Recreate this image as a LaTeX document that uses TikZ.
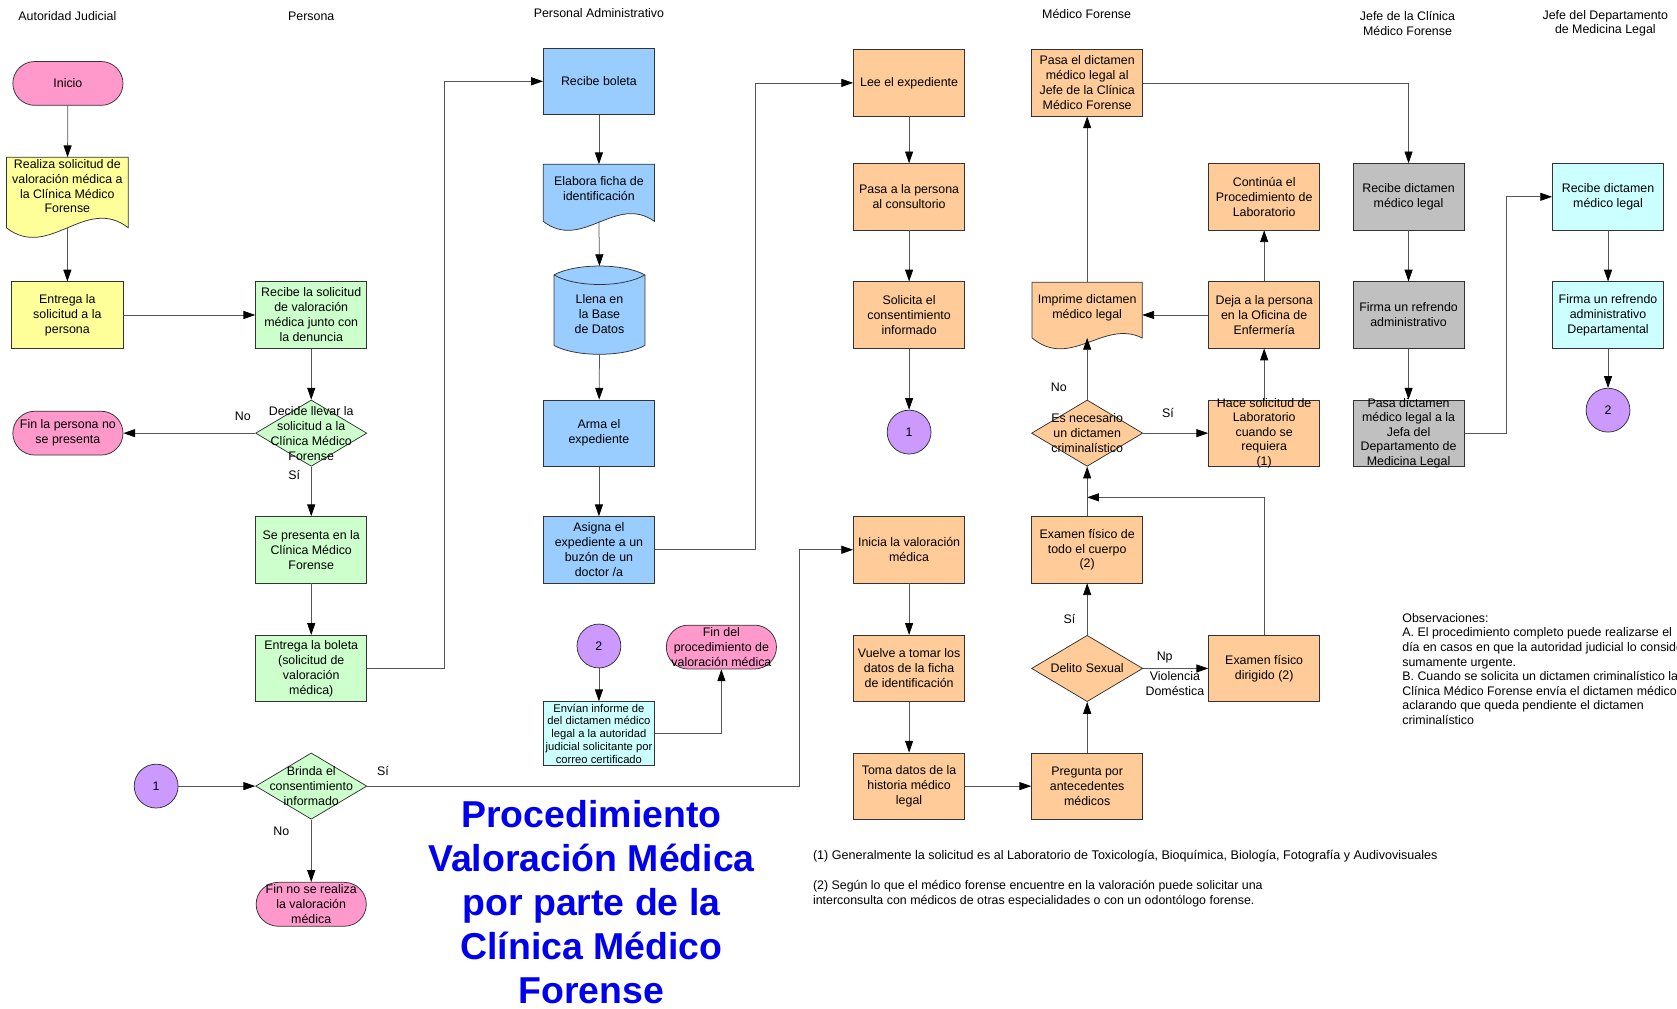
\documentclass[tikz,border=0pt]{standalone}
\usepackage{fontspec}
\setmainfont{Liberation Sans}
\usetikzlibrary{arrows.meta,shapes.geometric,calc}
\definecolor{cpink}{HTML}{FF99CC}
\definecolor{cyel}{HTML}{FFFF99}
\definecolor{cgreen}{HTML}{CCFFCC}
\definecolor{cblue}{HTML}{99CCFF}
\definecolor{corange}{HTML}{FFCC99}
\definecolor{cgrey}{HTML}{C0C0C0}
\definecolor{ccyan}{HTML}{CCFFFF}
\definecolor{cpurple}{HTML}{CC99FF}
\definecolor{ctitle}{RGB}{0,0,238}
\definecolor{cline}{HTML}{333333}
\definecolor{cconn}{HTML}{555555}
\newcommand\mkbox[5]{%
  \node[box, fill=#2] (#1) at (#3,#4) {};
  \node[txt] (#1t) at (#1) {#5};}
\newcommand\mkdia[5]{%
  \node[dia, fill=#2] (#1) at (#3,#4) {};
  \node[txt] (#1t) at (#1) {#5};}
\newcommand\mkterm[5]{%
  \node[term, fill=#2] (#1) at (#3,#4) {};
  \node[txt] (#1t) at (#1) {#5};}
\newcommand\docshape[4]{%
  \draw[shp, fill=#2] (#1.south west) -- (#1.north west) -- (#1.north east) -- (#1.south east)
   .. controls ($(#1.south east)!0.35!(#1.south west)+(0,-#4)$) and ($(#1.south east)!0.65!(#1.south west)+(0,#3)$) .. (#1.south west) -- cycle;}
\begin{document}
\begin{tikzpicture}[x=1pt,y=-1pt,
  font=\fontsize{11.6}{14}\selectfont,
  shp/.style={draw=cline, line width=0.7pt},
  box/.style={shp, minimum width=104pt, minimum height=62pt, inner sep=0pt},
  txt/.style={align=center, inner sep=0pt},
  term/.style={shp, rounded corners=20.5pt, minimum width=103pt, minimum height=41pt, inner sep=0pt},
  circ/.style={shp, circle, fill=cpurple, minimum size=41pt, inner sep=0pt},
  dia/.style={shp, diamond, minimum width=104pt, minimum height=62pt, inner sep=0pt},
  anchorbox/.style={inner sep=0pt, outer sep=0pt},
  arr/.style={draw=cconn, line width=0.7pt, -{Triangle[length=11pt,width=7.5pt,black]}},
  lbl/.style={inner sep=0pt},
  tight/.style={font=\fontsize{11.6}{13.5}\selectfont}]
\useasboundingbox (0,0) rectangle (1568,943);
\clip (0,0) rectangle (1568,943);

% headers
\node[txt] (h1) at (63,15) {Autoridad Judicial};
\node[txt] (h2) at (291,15) {Persona};
\node[txt] (h3) at (560,12) {Personal Administrativo};
\node[txt] (h4) at (1016,13) {Médico Forense};
\node[txt, tight] (h5) at (1316,22) {Jefe de la Clínica\\Médico Forense};
\node[txt, tight] (h6) at (1501,22) {Jefe del Departamento\\de Medicina Legal};

% column 1
\mkterm{inicio}{cpink}{63.5}{78}{Inicio}
\node[anchorbox, minimum width=114pt, minimum height=66pt] (realiza) at (63,180) {};
\docshape{realiza}{cyel}{31}{31}
\node[txt] (realizat) at (63,174) {Realiza solicitud de\\valoración médica a\\la Clínica Médico\\Forense};
\mkbox{entrega1}{cyel}{63}{294.5}{Entrega la\\solicitud a la\\persona}
\mkterm{fin1}{cpink}{63.5}{405}{Fin la persona no\\se presenta}
\node[circ] (c1a) at (146,735) {1};

% column 2
\mkbox{recibe1}{cgreen}{291}{294.5}{Recibe la solicitud\\de valoración\\médica junto con\\la denuncia}
\mkdia{decide}{cgreen}{291}{405}{Decide llevar la\\solicitud a la\\Clínica Médico\\Forense}
\mkbox{presenta}{cgreen}{291}{514}{Se presenta en la\\Clínica Médico\\Forense}
\mkbox{entrega2}{cgreen}{291}{625}{Entrega la boleta\\(solicitud de\\valoración\\médica)}
\mkdia{brinda}{cgreen}{291}{735}{Brinda el\\consentimiento\\informado}
\mkterm{fin2}{cpink}{291}{845.5}{Fin no se realiza\\la valoración\\médica}

% column 3
\mkbox{recibeb}{cblue}{560}{76}{Recibe boleta}
\node[anchorbox, minimum width=104pt, minimum height=53.5pt] (elabora) at (560,180.3) {};
\docshape{elabora}{cblue}{28}{26}
\node[txt] (elaborat) at (560,176) {Elabora ficha de\\identificación};
\node[anchorbox, minimum width=85pt, minimum height=66pt] (llena) at (560.5,290) {};
\draw[shp, fill=cblue] (llena.north west) .. controls ($(llena.north west)+(20,-11)$) and ($(llena.north east)+(-20,-11)$) .. (llena.north east)
  -- (llena.south east) .. controls ($(llena.south east)+(-20,11)$) and ($(llena.south west)+(20,11)$) .. (llena.south west) -- cycle;
\draw[shp] (llena.north west) .. controls ($(llena.north west)+(20,12)$) and ($(llena.north east)+(-20,12)$) .. (llena.north east);
\coordinate (llenatop) at ($(llena.north)+(0,-8.25)$);
\coordinate (llenabot) at ($(llena.south)+(0,8.25)$);
\node[txt] (llenat) at (560.5,294) {Llena en\\la Base\\de Datos};
\mkbox{arma}{cblue}{560}{405}{Arma el\\expediente}
\mkbox{asigna}{cblue}{560}{514}{Asigna el\\expediente a un\\buzón de un\\doctor /a}
\node[circ] (c2a) at (560,604) {2};
\mkterm{finproc}{cpink}{674.5}{605}{Fin del\\procedimiento de\\valoración médica}
\node[box, fill=ccyan, minimum height=60pt] (envian) at (560,686) {};
\node[txt, font=\fontsize{10.5}{12}\selectfont] (enviant) at (envian) {Envían informe de\\del dictamen médico\\legal a la autoridad\\judicial solicitante por\\correo certificado};

% column 4
\mkbox{lee}{corange}{850}{77.5}{Lee el expediente}
\mkbox{pasa}{corange}{850}{184}{Pasa a la persona\\al consultorio}
\mkbox{solicita}{corange}{850}{294.5}{Solicita el\\consentimiento\\informado}
\node[circ] (c1b) at (850,404) {1};
\mkbox{inicia}{corange}{850}{514}{Inicia la valoración\\médica}
\mkbox{vuelve}{corange}{850}{625}{Vuelve a tomar los\\datos de la ficha\\de identificación}
\mkbox{toma}{corange}{850}{735}{Toma datos de la\\historia médico\\legal}

% column 5
\mkbox{pasad}{corange}{1016.5}{77.5}{Pasa el dictamen\\médico legal al\\Jefe de la Clínica\\Médico Forense}
\node[anchorbox, minimum width=103pt, minimum height=52pt] (imprime) at (1016.5,290) {};
\docshape{imprime}{corange}{30}{18}
\node[txt] (imprimet) at (1016.5,288) {Imprime dictamen\\médico legal};
\mkdia{necesario}{corange}{1016.5}{405}{Es necesario\\un dictamen\\criminalístico}
\mkbox{examen1}{corange}{1016.5}{514}{Examen físico de\\todo el cuerpo\\(2)}
\mkdia{delito}{corange}{1016.5}{625}{Delito Sexual}
\mkbox{pregunta}{corange}{1016.5}{735}{Pregunta por\\antecedentes\\médicos}

% column 6
\mkbox{continua}{corange}{1182}{184}{Continúa el\\Procedimiento de\\Laboratorio}
\mkbox{deja}{corange}{1182}{294.5}{Deja a la persona\\en la Oficina de\\Enfermería}
\node[box, fill=corange] (hace) at (1182,405) {};
\node[txt, tight] (hacet) at (hace) {Hace solicitud de\\Laboratorio\\cuando se\\requiera\\(1)};
\mkbox{examen2}{corange}{1182}{625}{Examen físico\\dirigido (2)}
\coordinate (junc) at (1016.5,465);

% column 7
\mkbox{recibeg}{cgrey}{1317}{184}{Recibe dictamen\\médico legal}
\mkbox{firmag}{cgrey}{1317}{294.5}{Firma un refrendo\\administrativo}
\node[box, fill=cgrey] (pasag) at (1317,405) {};
\node[txt, tight] (pasagt) at (pasag) {Pasa dictamen\\médico legal a la\\Jefa del\\Departamento de\\Medicina Legal};

% column 8
\mkbox{recibec}{ccyan}{1503.5}{184}{Recibe dictamen\\médico legal}
\mkbox{firmac}{ccyan}{1503.5}{294.5}{Firma un refrendo\\administrativo\\Departamental}
\node[circ] (c2b) at (1503.5,383.5) {2};

% connectors
\draw[arr] (inicio) -- (realiza);
\draw[arr] (realiza.south) -- (entrega1);
\draw[arr] (entrega1) -- (recibe1);
\draw[arr] (recibe1) -- (decide);
\draw[arr] (decide) -- (fin1);
\draw[arr] (decide) -- (presenta);
\draw[arr] (presenta) -- (entrega2);
\draw[arr] (entrega2.east) -- ++(72,0) |- (recibeb.west);
\draw[arr] (recibeb) -- (elabora);
\draw[arr] (elabora.south) -- (llenatop);
\draw[arr] (llenabot) -- (arma);
\draw[arr] (arma) -- (asigna);
\draw[arr] (asigna.east) -- ++(94,0) |- (lee.west);
\draw[arr] (lee) -- (pasa);
\draw[arr] (pasa) -- (solicita);
\draw[arr] (solicita) -- (c1b);
\draw[arr] (c1a) -- (brinda);
\draw[arr] (brinda) -- (fin2);
\draw[arr] (brinda.east) -- ++(404,0) |- (inicia.west);
\draw[arr] (inicia) -- (vuelve);
\draw[arr] (vuelve) -- (toma);
\draw[arr] (toma) -- (pregunta);
\draw[arr] (pregunta) -- (delito);
\draw[arr] (delito) -- (examen1);
\draw[arr] (delito) -- (examen2);
\draw[arr] (examen2.north) |- (junc);
\draw[arr] (examen1) -- (necesario);
\draw[arr] (necesario) -- (imprime.south);
\draw[arr] (necesario) -- (hace);
\draw[arr] (hace) -- (deja);
\draw[arr] (deja) -- (continua);
\draw[arr] (deja.west) -- (deja.west -| imprime.east);
\draw[arr] (imprime) -- (pasad);
\draw[arr] (pasad.east) -| (recibeg.north);
\draw[arr] (recibeg) -- (firmag);
\draw[arr] (firmag) -- (pasag);
\draw[arr] (pasag.east) -- ++(39,0) |- (recibec.west);
\draw[arr] (recibec) -- (firmac);
\draw[arr] (firmac) -- (c2b);
\draw[arr] (c2a) -- (envian);
\draw[arr] (envian.east) -| (finproc.south);

% labels
\node[lbl] (l1) at (227,389) {No};
\node[lbl] (l2) at (275,444) {Sí};
\node[lbl] (l3) at (358,721) {Sí};
\node[lbl] (l4) at (263,777) {No};
\node[lbl] (l5) at (990,362) {No};
\node[lbl] (l6) at (1092,386) {Sí};
\node[lbl] (l7) at (1000,579) {Sí};
\node[lbl] (l8) at (1089,615) {Np};
\node[txt] (l9) at (1098.5,639.5) {Violencia\\Doméstica};

% title
\node[txt, text=ctitle, font=\fontsize{35}{41.3}\selectfont\bfseries] (title) at (553,843.5)
  {Procedimiento\\Valoración Médica\\por parte de la\\Clínica Médico\\Forense};

% notes
\node[align=left, inner sep=0pt, anchor=north west, font=\fontsize{11.75}{14}\selectfont] (fn1) at (760,795) {(1) Generalmente la solicitud es al Laboratorio de Toxicología, Bioquímica, Biología, Fotografía y Audivovisuales};
\node[align=left, inner sep=0pt, anchor=north west] (fn2) at (760,823) {(2) Según lo que el médico forense encuentre en la valoración puede solicitar una\\interconsulta con médicos de otras especialidades o con un odontólogo forense.};
\node[align=left, inner sep=0pt, anchor=north west, font=\fontsize{11.6}{13.7}\selectfont] (obs) at (1311,573)
  {Observaciones:\\A. El procedimiento completo puede realizarse el\\día en casos en que la autoridad judicial lo considere\\sumamente urgente.\\B. Cuando se solicita un dictamen criminalístico la\\Clínica Médico Forense envía el dictamen médico\\aclarando que queda pendiente el dictamen\\criminalístico};
\end{tikzpicture}
\end{document}
